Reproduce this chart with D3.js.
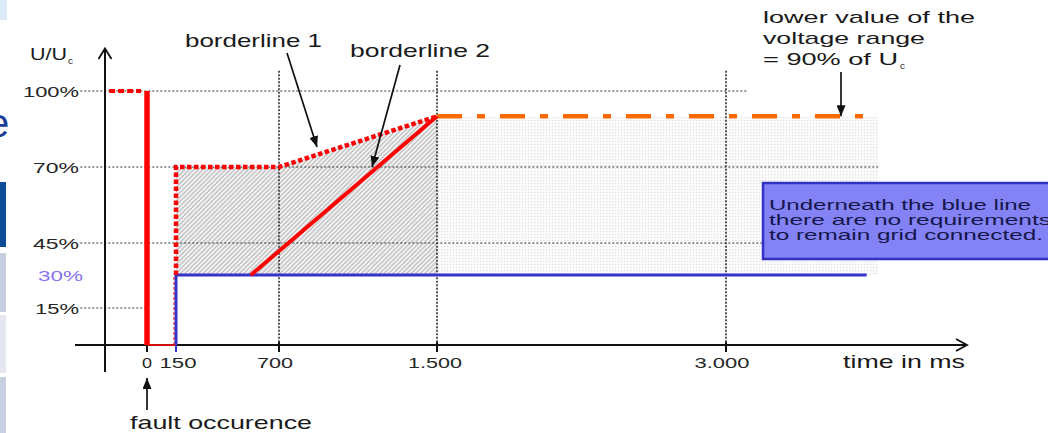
<!DOCTYPE html>
<html><head><meta charset="utf-8">
<script src="https://cdn.jsdelivr.net/npm/d3@7"></script>
<style>html,body{margin:0;padding:0;background:#fff;overflow:hidden}svg{display:block}text{font-family:"Liberation Sans",Arial,sans-serif}</style>
</head><body><svg id="c" width="1048" height="433"></svg>
<script>
// ---- data ----
const xTickValues = [0, 150, 700, 1500, 3000];
const xTickLabels = ["0", "150", "700", "1.500", "3.000"];
const yTickValues = [100, 70, 45, 30, 15];
const yTickLabels = ["100%", "70%", "45%", "30%", "15%"];
const preFault = [{t: -196, v: 100}, {t: -31, v: 100}];
const faultDrop = [{t: 0, v: 100}, {t: 0, v: 0}];
const faultBase = [{t: 0, v: 0}, {t: 150, v: 0}];
const borderline1 = [{t: 150, v: 30}, {t: 150, v: 70}, {t: 700, v: 70}, {t: 1500, v: 90}];
const borderline2 = [{t: 550, v: 30}, {t: 1500, v: 90}];
const blueLine = [{t: 150, v: 0}, {t: 150, v: 30}, {t: 3730, v: 30}];
const lowerRange = [{t: 1500, v: 90}, {t: 3730, v: 90}];
const dottedArea = [{t: 1500, v: 90}, {t: 3790, v: 90}];
const areaFloor = 30;
const gridH = [{v: 100, from: -345, to: 3110}, {v: 70, from: -345, to: 3790}, {v: 45, from: -345, to: 3790}, {v: 15, from: -345, to: 0}];
const gridV = [700, 1500, 3000];
const gridTop = 108;

// ---- scales (schematic, piecewise) ----
const x = d3.scaleLinear().domain([0, 150, 700, 1500, 3000]).range([147, 176, 279, 437, 726]);
const y = d3.scaleLinear().domain([0, 15, 30, 45, 70, 100]).range([345, 308, 275, 243, 167, 91]);

const svg = d3.select("#c");
const defs = svg.append("defs");

// hatch pattern
const hp = defs.append("pattern").attr("id", "hatch").attr("patternUnits", "userSpaceOnUse")
  .attr("width", 3.2).attr("height", 10).attr("patternTransform", "rotate(45)");
hp.append("rect").attr("width", 3.2).attr("height", 10).attr("fill", "#f2f2f2");
hp.append("line").attr("x1", 1).attr("x2", 1).attr("y1", 0).attr("y2", 10).attr("stroke", "#aaaaaa").attr("stroke-width", 0.9);
// dotted pattern
const dp = defs.append("pattern").attr("id", "dots").attr("patternUnits", "userSpaceOnUse").attr("width", 3).attr("height", 3);
dp.append("rect").attr("width", 3).attr("height", 3).attr("fill", "#fcfcfc");
dp.append("rect").attr("width", 1.2).attr("height", 1.2).attr("fill", "#dedede");
// arrow marker
defs.append("marker").attr("id", "ah").attr("markerUnits", "userSpaceOnUse").attr("markerWidth", 11).attr("markerHeight", 9)
  .attr("refX", 11).attr("refY", 4.5).attr("orient", "auto")
  .append("path").attr("d", "M0,0L11,4.5L0,9Z").attr("fill", "#111");

// ---- left slide fragment ----
const side = svg.append("g");
side.append("rect").attr("x", 0).attr("y", 0).attr("width", 7).attr("height", 20).attr("fill", "#dce9f7");
side.append("text").attr("x", -13).attr("y", 137).attr("font-size", 40).attr("fill", "#1c3f95").text("e");
side.append("rect").attr("x", 0).attr("y", 182).attr("width", 6).attr("height", 65).attr("fill", "#0b4b98");
side.append("rect").attr("x", 0).attr("y", 253).attr("width", 6).attr("height", 59).attr("fill", "#c6cee0");
side.append("rect").attr("x", 0).attr("y", 315).attr("width", 6).attr("height", 58).attr("fill", "#e4e7ef");
side.append("rect").attr("x", 0).attr("y", 377).attr("width", 6).attr("height", 56).attr("fill", "#c9d0e1");

// ---- areas ----
const area = d3.area().x(d => x(d.t)).y0(y(areaFloor)).y1(d => y(d.v));
svg.append("path").datum(borderline1.slice(1)).attr("d", area).attr("fill", "url(#hatch)");
svg.append("path").datum(dottedArea).attr("d", area).attr("fill", "url(#dots)");

// ---- grid ----
const grid = svg.append("g").attr("stroke", "#333").attr("fill", "none");
grid.selectAll("line.h").data(gridH).join("line").attr("class", "h")
  .attr("x1", d => x(d.from)).attr("x2", d => x(d.to)).attr("y1", d => y(d.v)).attr("y2", d => y(d.v))
  .attr("stroke-width", 1).attr("stroke-dasharray", "2,2");
grid.selectAll("line.v").data(gridV).join("line").attr("class", "v")
  .attr("x1", d => x(d)).attr("x2", d => x(d)).attr("y1", y(gridTop)).attr("y2", y(0))
  .attr("stroke-width", 1.8).attr("stroke", "#444").attr("stroke-dasharray", "2,1.5");

const line = d3.line().x(d => x(d.t)).y(d => y(d.v));

// ---- orange lower range line ----
svg.append("path").datum(lowerRange).attr("d", line).attr("fill", "none")
  .attr("stroke", "#ff6a00").attr("stroke-width", 4.5).attr("stroke-dasharray", "25,15,8,15");

// ---- axes ----
const ax = svg.append("g").attr("stroke", "#111").attr("fill", "none").attr("stroke-width", 2);
ax.append("line").attr("x1", 105).attr("x2", 105).attr("y1", 49).attr("y2", 372);
ax.append("path").attr("d", "M98.5,59L105,48.5L111.5,59").attr("stroke-width", 1.8);
ax.append("line").attr("x1", 75).attr("x2", 966).attr("y1", y(0)).attr("y2", y(0));
ax.append("path").attr("d", `M956,${y(0) - 6}L967,${y(0)}L956,${y(0) + 6}`).attr("stroke-width", 1.8);
ax.selectAll("line.tk").data(xTickValues).join("line").attr("class", "tk")
  .attr("x1", d => x(d)).attr("x2", d => x(d)).attr("y1", y(0) - 3).attr("y2", y(0) + 7)
  .attr("stroke", d => d === 150 ? "#3535c8" : "#111");

// ---- red / blue lines ----
svg.append("path").datum(faultBase).attr("d", line).attr("fill", "none").attr("stroke", "#ff1010").attr("stroke-width", 1.6);
svg.append("line").attr("x1", x(150) - 2).attr("x2", x(150) - 2).attr("y1", y(0)).attr("y2", y(30))
  .attr("stroke", "#ff3030").attr("stroke-width", 1.3).attr("stroke-dasharray", "3,2");
svg.append("path").datum(blueLine).attr("d", line).attr("fill", "none").attr("stroke", "#3434c8").attr("stroke-width", 3);
svg.append("path").datum(borderline2).attr("d", line).attr("fill", "none").attr("stroke", "#ff0000").attr("stroke-width", 4);
svg.append("path").datum(borderline1).attr("d", line).attr("fill", "none").attr("stroke", "#ff0000")
  .attr("stroke-width", 4.5).attr("stroke-dasharray", "4.5,2.5");
svg.append("path").datum(preFault).attr("d", line).attr("fill", "none").attr("stroke", "#ff0000")
  .attr("stroke-width", 4).attr("stroke-dasharray", "6,3");
svg.append("path").datum(faultDrop).attr("d", line).attr("fill", "none").attr("stroke", "#ff0000").attr("stroke-width", 5.5);

// ---- text helper ----
function txt(s, tx, ty, size, len, opts = {}) {
  const t = svg.append("text").attr("x", tx).attr("y", ty).attr("font-size", size)
    .attr("fill", opts.fill || "#1a1a1a").text(s);
  if (len) t.attr("textLength", len).attr("lengthAdjust", "spacingAndGlyphs");
  if (opts.anchor) t.attr("text-anchor", opts.anchor);
  return t;
}

// y labels
const yLabelW = [56, 46, 46, 45, 44];
yTickValues.forEach((v, i) => {
  const is30 = v === 30;
  txt(yTickLabels[i], is30 ? 83 : 79, y(v) + 5.5, 14.5, yLabelW[i], {anchor: "end", fill: is30 ? "#8a72ee" : "#262626"});
});
// x labels
const xLabelW = [10, 37, 36, 54, 55];
const xLabelOff = [0, 2, -4, -2, -4];
xTickValues.forEach((t, i) => {
  txt(xTickLabels[i], x(t) + xLabelOff[i], 368, 14.5, xLabelW[i], {anchor: "middle", fill: "#262626"});
});

// axis titles
txt("U/U", 30, 60, 17, 37);
txt("c", 68, 64, 9, 5);
txt("time in ms", 843, 368, 19, 122);
txt("fault occurence", 130, 429, 19, 182);

// annotations
txt("borderline 1", 185, 47, 19, 137);
txt("borderline 2", 350, 57, 19, 140);
txt("lower value of the", 763, 23, 17, 212);
txt("voltage range", 763, 44, 17, 162);
txt("= 90% of U", 763, 65, 17, 135);
txt("c", 900, 69, 9, 5);

const arrows = svg.append("g").attr("stroke", "#111").attr("stroke-width", 1.7);
arrows.append("line").attr("x1", 287).attr("y1", 53).attr("x2", 317).attr("y2", 147).attr("marker-end", "url(#ah)");
arrows.append("line").attr("x1", 400).attr("y1", 65).attr("x2", 372).attr("y2", y(70)).attr("marker-end", "url(#ah)");
arrows.append("line").attr("x1", 841).attr("y1", 72).attr("x2", 841).attr("y2", y(90)).attr("marker-end", "url(#ah)");
arrows.append("line").attr("x1", x(0)).attr("y1", 410).attr("x2", x(0)).attr("y2", 378).attr("marker-end", "url(#ah)");

// info box
svg.append("rect").attr("x", 763).attr("y", 183).attr("width", 300).attr("height", 76)
  .attr("fill", "#8383f6").attr("stroke", "#3232c2").attr("stroke-width", 2.5);
txt("Underneath the blue line", 769, 210, 15, 262, {fill: "#16164a"});
txt("there are no requirements", 769, 225, 15, 282, {fill: "#16164a"});
txt("to remain grid connected.", 769, 240, 15, 274, {fill: "#16164a"});
</script></body></html>
